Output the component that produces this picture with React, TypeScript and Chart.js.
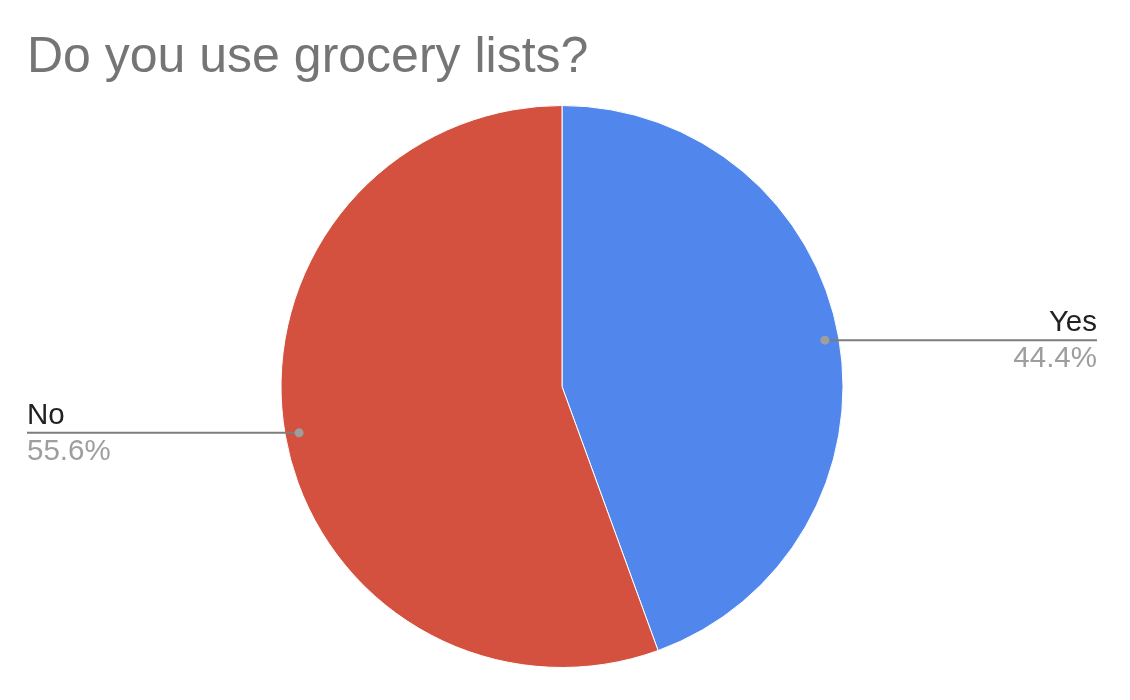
import React, { useEffect, useRef } from "react";
import { Chart, registerables } from "chart.js";

Chart.register(...registerables);

const chartTitle = "Do you use grocery lists?";
const categories = ["Yes", "No"];
const responseCounts = [4, 5];
const sliceColors = ["#5187ed", "#d5513f"];

const FONT = "Arial, 'Liberation Sans', Helvetica, sans-serif";

const labelPlugin = {
  id: "sheetLabels",
  afterDraw(chart: any) {
    const ctx = chart.ctx as CanvasRenderingContext2D;
    const area = chart.chartArea;
    ctx.save();
    // Title
    ctx.font = `50px ${FONT}`;
    ctx.fillStyle = "#757575";
    ctx.textAlign = "left";
    ctx.textBaseline = "alphabetic";
    ctx.fillText(chartTitle, area.left, 72);

    const meta = chart.getDatasetMeta(0);
    const data = chart.data.datasets[0].data as number[];
    const total = data.reduce((a, b) => a + b, 0);
    meta.data.forEach((arc: any, i: number) => {
      const props = arc.getProps(["x", "y", "startAngle", "endAngle", "outerRadius"], true);
      const mid = (props.startAngle + props.endAngle) / 2;
      const r = props.outerRadius * 0.95;
      const dx = props.x + Math.cos(mid) * r;
      const dy = props.y + Math.sin(mid) * r;
      const right = dx > props.x;
      const endX = right ? area.right : area.left;

      ctx.strokeStyle = "#7d7d7d";
      ctx.lineWidth = 2;
      ctx.beginPath();
      ctx.moveTo(dx, dy);
      ctx.lineTo(endX, dy);
      ctx.stroke();

      ctx.fillStyle = "#9e9e9e";
      ctx.beginPath();
      ctx.arc(dx, dy, 4.5, 0, Math.PI * 2);
      ctx.fill();

      ctx.textAlign = right ? "right" : "left";
      ctx.font = `29.5px ${FONT}`;
      ctx.fillStyle = "#222222";
      ctx.fillText(String(chart.data.labels[i]), endX, dy - 9);
      ctx.fillStyle = "#9e9e9e";
      const pct = ((data[i] / total) * 100).toFixed(1) + "%";
      ctx.fillText(pct, endX, dy + 27);
    });
    ctx.restore();
  },
};

export default function App() {
  const ref = useRef<HTMLCanvasElement | null>(null);
  useEffect(() => {
    if (!ref.current) return;
    const chart = new Chart(ref.current, {
      type: "pie",
      data: {
        labels: categories,
        datasets: [
          {
            data: responseCounts,
            backgroundColor: sliceColors,
            borderColor: "#ffffff",
            borderWidth: 1,
            hoverOffset: 0,
            radius: 281,
          } as any,
        ],
      },
      options: {
        animation: false,
        responsive: false,
        layout: { padding: { left: 27, right: 33, top: 106, bottom: 33 } },
        plugins: {
          legend: { display: false },
          tooltip: { enabled: false },
          title: { display: false },
        },
      },
      plugins: [labelPlugin],
    });
    return () => chart.destroy();
  }, []);
  return (
    <div style={{ position: "fixed", left: 0, top: 0, width: 1130, height: 700, background: "#fff" }}>
      <canvas ref={ref} width={1130} height={700} style={{ width: 1130, height: 700 }} />
    </div>
  );
}
